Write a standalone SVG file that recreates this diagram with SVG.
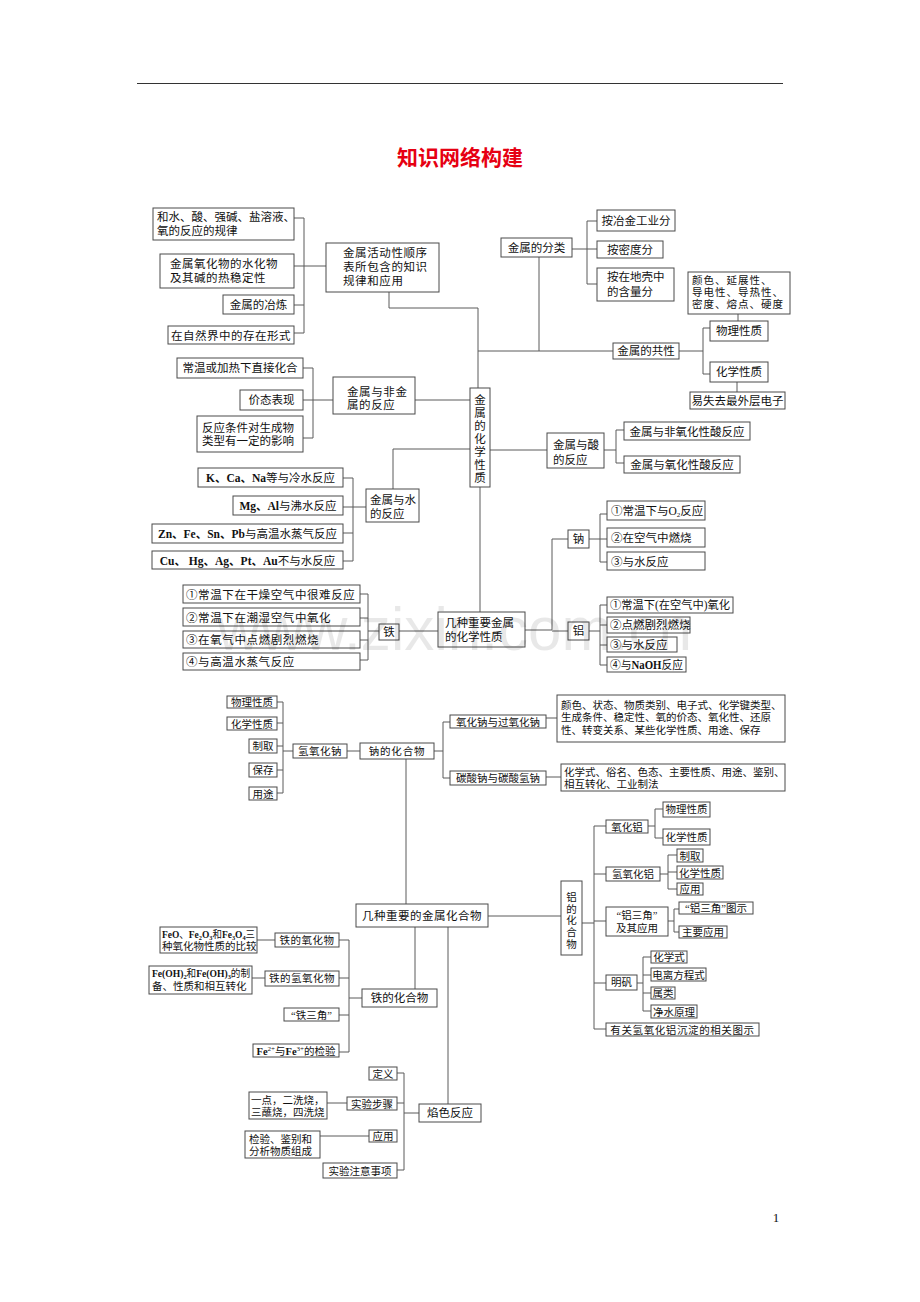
<svg xmlns="http://www.w3.org/2000/svg" width="920" height="1302" viewBox="0 0 920 1302">
<style>
.b{fill:#fff;stroke:#4a4a4a;stroke-width:1}
.l{fill:none;stroke:#5a5a5a;stroke-width:1}
text{font-family:"Liberation Serif","Noto Sans CJK SC",serif;fill:#111}
.t{font-size:11.5px}
.s{font-size:10.5px}
.m{text-anchor:middle}
.sub{font-size:7px}
</style>
<rect width="920" height="1302" fill="#fff"/>
<line x1="137" y1="83.5" x2="783" y2="83.5" stroke="#333" stroke-width="1"/>
<text x="460" y="165" text-anchor="middle" style="font-family:'Noto Sans CJK SC',sans-serif;font-size:21px;font-weight:bold;fill:#e60012">知识网络构建</text>

<g id="connectors" class="l">
<path d="M294 218H304V333H294M294 305H304M294 266H326M389 292V308H478V388M539 257V351M478 351H613M572 249H597M597 221H587V284H597M679 351H703M710 328H703V374H710M738 314V321M737 382V392M415 400H470M303 368H313V438H303M303 400H333M393 489V449H470M343 478H353V561H343M343 533H353M343 507H366M490 450H547M604 450H616M624 430H616V463H624M480 487V612M525 630H552V539H568M552 631H568M589 539H607M607 514H600V562H607M589 631H600M607 605H600V665H607M600 625H607M600 645H607M399 631H438M379 631H368M360 594H368V660H360M360 618H368M360 640H368"/>
<path d="M277 702H283V793H277M277 723H283M277 746H283M277 770H283M283 751H293M347 751H360M434 751H443M450 722H443V778H450M546 718H557M546 777H561M406 759V904M488 916H561M582 923H594M606 826H594V1029H606M594 874H606M594 921H606M594 983H606M648 826H655M663 809H655V838H663M660 874H668M677 855H668V889H677M668 872H677M668 921H674M679 909H674V932H679M637 983H643M651 957H643V1011H651M643 975H651M643 993H651M415 927V989M448 927V1104M257 940H275M252 978H265M339 940H349V1052H339M339 978H349M339 1015H349M349 998H362M327 1103H347M320 1136H369M397 1073H404V1170H397M397 1103H404M404 1113H419"/>
</g>

<g id="n-guilv"><rect class="b" x="153" y="208" width="141" height="32"/><text class="t" x="157" y="221">和水、酸、强碱、盐溶液、</text><text class="t" x="157" y="235">氧的反应的规律</text></g>
<g id="n-shuihuawu"><rect class="b" x="160" y="254" width="134" height="34"/><text class="t" x="170" y="268" letter-spacing="0.5">金属氧化物的水化物</text><text class="t" x="170" y="282" letter-spacing="0.5">及其碱的热稳定性</text></g>
<g id="n-yelian"><rect class="b" x="223" y="295" width="71" height="19"/><text class="t m" x="258.5" y="308.5">金属的冶炼</text></g>
<g id="n-cunzai"><rect class="b" x="168" y="326" width="126" height="18"/><text class="t m" x="231" y="339.5" letter-spacing="0.5">在自然界中的存在形式</text></g>
<g id="n-shunxu"><rect class="b" x="326" y="243" width="113" height="49"/><text class="t" x="343" y="257" letter-spacing="0.6">金属活动性顺序</text><text class="t" x="343" y="271" letter-spacing="0.6">表所包含的知识</text><text class="t" x="343" y="285" letter-spacing="0.6">规律和应用</text></g>

<g id="n-fenlei"><rect class="b" x="501" y="238" width="71" height="19"/><text class="t m" x="536.5" y="251.5">金属的分类</text></g>
<g id="n-yejin"><rect class="b" x="597" y="210" width="78" height="21"/><text class="t m" x="636" y="224.5">按冶金工业分</text></g>
<g id="n-midu"><rect class="b" x="597" y="241" width="66" height="17"/><text class="t m" x="630" y="253.5">按密度分</text></g>
<g id="n-diqiao"><rect class="b" x="597" y="268" width="77" height="33"/><text class="t" x="607" y="281">按在地壳中</text><text class="t" x="607" y="296">的含量分</text></g>
<g id="n-gongxing"><rect class="b" x="613" y="343" width="66" height="16"/><text class="t m" x="646" y="355">金属的共性</text></g>
<g id="n-wuli"><rect class="b" x="710" y="321" width="58" height="20"/><text class="t m" x="739" y="335">物理性质</text></g>
<g id="n-huaxue"><rect class="b" x="710" y="362" width="58" height="20"/><text class="t m" x="739" y="376">化学性质</text></g>
<g id="n-yanse"><rect class="b" x="688" y="272" width="102" height="42"/><text class="s" x="692" y="284" letter-spacing="1">颜色、延展性、</text><text class="s" x="692" y="296" letter-spacing="1">导电性、导热性、</text><text class="s" x="692" y="308" letter-spacing="1">密度、熔点、硬度</text></g>
<g id="n-shiqu"><rect class="b" x="690" y="392" width="95" height="17"/><text class="t m" x="737.5" y="404.5">易失去最外层电子</text></g>

<g id="n-huaxuexingzhi"><rect class="b" x="470" y="388" width="20" height="99"/><text class="t m"><tspan x="480" y="404">金</tspan><tspan x="480" dy="13">属</tspan><tspan x="480" dy="13">的</tspan><tspan x="480" dy="13">化</tspan><tspan x="480" dy="13">学</tspan><tspan x="480" dy="13">性</tspan><tspan x="480" dy="13">质</tspan></text></g>

<g id="n-zhijie"><rect class="b" x="177" y="358" width="126" height="20"/><text class="t m" x="240" y="372">常温或加热下直接化合</text></g>
<g id="n-jiatai"><rect class="b" x="240" y="390" width="63" height="20"/><text class="t m" x="271.5" y="404">价态表现</text></g>
<g id="n-tiaojian"><rect class="b" x="197" y="416" width="106" height="36"/><text class="t" x="202" y="432">反应条件对生成物</text><text class="t" x="202" y="445">类型有一定的影响</text></g>
<g id="n-feijin"><rect class="b" x="333" y="377" width="82" height="37"/><text class="t" x="347" y="395.5" letter-spacing="0.6">金属与非金</text><text class="t" x="347" y="408.5" letter-spacing="0.6">属的反应</text></g>

<g id="n-shui"><rect class="b" x="366" y="489" width="53" height="33"/><text class="t" x="370" y="503.5">金属与水</text><text class="t" x="370" y="518">的反应</text></g>
<g id="n-lengshui"><rect class="b" x="198" y="468" width="145" height="19"/><text class="t m" x="270.5" y="482" font-weight="bold">K、Ca、Na<tspan font-weight="normal">等与冷水反应</tspan></text></g>
<g id="n-feishui"><rect class="b" x="233" y="496" width="110" height="19"/><text class="t m" x="288" y="510" font-weight="bold">Mg、Al<tspan font-weight="normal">与沸水反应</tspan></text></g>
<g id="n-zhengqi"><rect class="b" x="152" y="524" width="191" height="19"/><text class="t m" x="247.5" y="538" font-weight="bold">Zn、Fe、Sn、Pb<tspan font-weight="normal">与高温水蒸气反应</tspan></text></g>
<g id="n-bushui"><rect class="b" x="152" y="551" width="191" height="18"/><text class="t m" x="247.5" y="564.5" font-weight="bold">Cu、 Hg、Ag、Pt、Au<tspan font-weight="normal">不与水反应</tspan></text></g>

<g id="n-suan"><rect class="b" x="547" y="433" width="57" height="35"/><text class="t" x="553" y="449">金属与酸</text><text class="t" x="553" y="464">的反应</text></g>
<g id="n-feiyanghua"><rect class="b" x="624" y="422" width="126" height="18"/><text class="t m" x="687" y="435.5">金属与非氧化性酸反应</text></g>
<g id="n-yanghua"><rect class="b" x="624" y="456" width="116" height="17"/><text class="t m" x="682" y="469">金属与氧化性酸反应</text></g>

<g id="n-jizhong"><rect class="b" x="438" y="612" width="87" height="35"/><text class="t" x="445" y="627">几种重要金属</text><text class="t" x="445" y="641">的化学性质</text></g>
<g id="n-na"><rect class="b" x="568" y="530" width="21" height="18"/><text class="t m" x="578.5" y="543">钠</text></g>
<g id="n-na1"><rect class="b" x="607" y="501" width="98" height="19"/><text class="t" x="611" y="515">①常温下与O<tspan class="sub" dy="2">2</tspan><tspan dy="-2">反应</tspan></text></g>
<g id="n-na2"><rect class="b" x="607" y="528" width="98" height="19"/><text class="t" x="611" y="542">②在空气中燃烧</text></g>
<g id="n-na3"><rect class="b" x="607" y="552" width="98" height="18"/><text class="t" x="611" y="565.5">③与水反应</text></g>
<g id="n-al"><rect class="b" x="568" y="622" width="21" height="18"/><text class="t m" x="578.5" y="635">铝</text></g>
<g id="n-al1"><rect class="b" x="607" y="597" width="126" height="16"/><text class="t" x="610" y="609" textLength="120" lengthAdjust="spacingAndGlyphs">①常温下(在空气中)氧化</text></g>
<g id="n-al2"><rect class="b" x="607" y="617" width="83" height="16"/><text class="t" x="610" y="629">②点燃剧烈燃烧</text></g>
<g id="n-al3"><rect class="b" x="607" y="637" width="70" height="15"/><text class="t" x="610" y="648.5">③与水反应</text></g>
<g id="n-al4"><rect class="b" x="607" y="657" width="79" height="15"/><text class="t" x="610" y="668.5" textLength="73" lengthAdjust="spacingAndGlyphs">④与<tspan font-weight="bold">NaOH</tspan>反应</text></g>
<g id="n-fe"><rect class="b" x="379" y="624" width="20" height="16"/><text class="t m" x="389" y="636">铁</text></g>
<g id="n-fe1"><rect class="b" x="183" y="585" width="177" height="18"/><text class="t" x="186" y="598.5" letter-spacing="0.6">①常温下在干燥空气中很难反应</text></g>
<g id="n-fe2"><rect class="b" x="183" y="608" width="177" height="18"/><text class="t" x="186" y="621.5" letter-spacing="0.6">②常温下在潮湿空气中氧化</text></g>
<g id="n-fe3"><rect class="b" x="183" y="631" width="177" height="17"/><text class="t" x="186" y="644" letter-spacing="0.6">③在氧气中点燃剧烈燃烧</text></g>
<g id="n-fe4"><rect class="b" x="183" y="653" width="177" height="17"/><text class="t" x="186" y="666" letter-spacing="0.6">④与高温水蒸气反应</text></g>

<g id="n-naoh-wuli"><rect class="b" x="227" y="696" width="50" height="12"/><text class="s m" x="252" y="706">物理性质</text></g>
<g id="n-naoh-huaxue"><rect class="b" x="227" y="717" width="50" height="13"/><text class="s m" x="252" y="727.5">化学性质</text></g>
<g id="n-naoh-zhiqu"><rect class="b" x="249" y="739" width="28" height="14"/><text class="s m" x="263" y="750">制取</text></g>
<g id="n-naoh-baocun"><rect class="b" x="249" y="763" width="28" height="14"/><text class="s m" x="263" y="774">保存</text></g>
<g id="n-naoh-yongtu"><rect class="b" x="249" y="787" width="28" height="13"/><text class="s m" x="263" y="797.5">用途</text></g>
<g id="n-naoh"><rect class="b" x="293" y="744" width="54" height="14"/><text class="s m" x="320" y="755" letter-spacing="0.5">氢氧化钠</text></g>
<g id="n-nahuahewu"><rect class="b" x="360" y="743" width="74" height="16"/><text class="s m" x="397" y="755" letter-spacing="0.8">钠的化合物</text></g>
<g id="n-na2o"><rect class="b" x="450" y="715" width="96" height="13"/><text class="s m" x="498" y="725.5">氧化钠与过氧化钠</text></g>
<g id="n-na2co3"><rect class="b" x="450" y="771" width="96" height="14"/><text class="s m" x="498" y="782">碳酸钠与碳酸氢钠</text></g>
<g id="n-na2o-d"><rect class="b" x="557" y="695" width="228" height="47"/><text class="s" x="561" y="708.5">颜色、状态、物质类别、电子式、化学键类型、</text><text class="s" x="561" y="721">生成条件、稳定性、氧的价态、氧化性、还原</text><text class="s" x="561" y="733.5">性、转变关系、某些化学性质、用途、保存</text></g>
<g id="n-na2co3-d"><rect class="b" x="561" y="764" width="224" height="27"/><text class="s" x="564" y="776">化学式、俗名、色态、主要性质、用途、鉴别、</text><text class="s" x="564" y="787.5">相互转化、工业制法</text></g>

<g id="n-jinshuhuahewu"><rect class="b" x="356" y="904" width="132" height="23"/><text class="t m" x="422" y="920" letter-spacing="0.5">几种重要的金属化合物</text></g>
<g id="n-lvhuahewu"><rect class="b" x="561" y="881" width="21" height="74"/><text class="s m"><tspan x="571.5" y="901">铝</tspan><tspan x="571.5" dy="11.7">的</tspan><tspan x="571.5" dy="11.7">化</tspan><tspan x="571.5" dy="11.7">合</tspan><tspan x="571.5" dy="11.7">物</tspan></text></g>
<g id="n-al2o3"><rect class="b" x="606" y="820" width="42" height="13"/><text class="s m" x="627" y="830.5">氧化铝</text></g>
<g id="n-al2o3-wuli"><rect class="b" x="663" y="802" width="47" height="15"/><text class="s m" x="686.5" y="813">物理性质</text></g>
<g id="n-al2o3-huaxue"><rect class="b" x="663" y="829" width="47" height="16"/><text class="s m" x="686.5" y="841">化学性质</text></g>
<g id="n-aloh3"><rect class="b" x="606" y="867" width="54" height="14"/><text class="s m" x="633" y="878">氢氧化铝</text></g>
<g id="n-aloh3-zhiqu"><rect class="b" x="677" y="849" width="26" height="13"/><text class="s m" x="690" y="859.5">制取</text></g>
<g id="n-aloh3-huaxue"><rect class="b" x="677" y="866" width="46" height="13"/><text class="s m" x="700" y="876.5">化学性质</text></g>
<g id="n-aloh3-yingyong"><rect class="b" x="677" y="883" width="26" height="12"/><text class="s m" x="690" y="893">应用</text></g>
<g id="n-lvsanjiao"><rect class="b" x="606" y="907" width="62" height="29"/><text class="s m" x="637" y="919">“铝三角”</text><text class="s m" x="637" y="931.5">及其应用</text></g>
<g id="n-lvsanjiao-tu"><rect class="b" x="679" y="902" width="74" height="12"/><text class="s m" x="716" y="912">“铝三角”图示</text></g>
<g id="n-lvsanjiao-yy"><rect class="b" x="679" y="926" width="48" height="12"/><text class="s m" x="703" y="936">主要应用</text></g>
<g id="n-mingfan"><rect class="b" x="606" y="975" width="31" height="15"/><text class="s m" x="621.5" y="986">明矾</text></g>
<g id="n-mf1"><rect class="b" x="651" y="951" width="36" height="12"/><text class="s m" x="669" y="961">化学式</text></g>
<g id="n-mf2"><rect class="b" x="651" y="968" width="55" height="13"/><text class="s m" x="678.5" y="978.5">电离方程式</text></g>
<g id="n-mf3"><rect class="b" x="651" y="987" width="24" height="12"/><text class="s m" x="663" y="997">属类</text></g>
<g id="n-mf4"><rect class="b" x="651" y="1005" width="46" height="13"/><text class="s m" x="674" y="1015.5">净水原理</text></g>
<g id="n-chendian"><rect class="b" x="606" y="1023" width="153" height="13"/><text class="s m" x="682.5" y="1033.5" letter-spacing="0.6">有关氢氧化铝沉淀的相关图示</text></g>

<g id="n-tiehuahewu"><rect class="b" x="362" y="989" width="75" height="18"/><text class="t m" x="399.5" y="1002">铁的化合物</text></g>
<g id="n-tieyanghuawu"><rect class="b" x="275" y="933" width="64" height="14"/><text class="s m" x="307" y="944" letter-spacing="0.5">铁的氧化物</text></g>
<g id="n-feo"><rect class="b" x="160" y="927" width="97" height="26"/><text class="s" x="162" y="937.5" textLength="93" lengthAdjust="spacingAndGlyphs"><tspan font-weight="bold">FeO</tspan>、<tspan font-weight="bold">Fe<tspan class="sub" dy="2">2</tspan><tspan dy="-2">O</tspan><tspan class="sub" dy="2">3</tspan></tspan><tspan dy="-2">和</tspan><tspan font-weight="bold">Fe<tspan class="sub" dy="2">3</tspan><tspan dy="-2">O</tspan><tspan class="sub" dy="2">4</tspan></tspan><tspan dy="-2">三</tspan></text><text class="s" x="162" y="949.5">种氧化物性质的比较</text></g>
<g id="n-tieqingyanghuawu"><rect class="b" x="265" y="971" width="74" height="15"/><text class="s m" x="302" y="982" letter-spacing="0.5">铁的氢氧化物</text></g>
<g id="n-feoh"><rect class="b" x="149" y="966" width="103" height="28"/><text class="s" x="152" y="977" textLength="98" lengthAdjust="spacingAndGlyphs"><tspan font-weight="bold">Fe(OH)<tspan class="sub" dy="2">2</tspan></tspan><tspan dy="-2">和</tspan><tspan font-weight="bold">Fe(OH)<tspan class="sub" dy="2">3</tspan></tspan><tspan dy="-2">的制</tspan></text><text class="s" x="152" y="989.5">备、性质和相互转化</text></g>
<g id="n-tiesanjiao"><rect class="b" x="284" y="1008" width="55" height="13"/><text class="s m" x="311.5" y="1018.5">“铁三角”</text></g>
<g id="n-jianyan"><rect class="b" x="253" y="1044" width="86" height="13"/><text class="s m" x="296" y="1054.5"><tspan font-weight="bold">Fe</tspan><tspan class="sub" dy="-4">2+</tspan><tspan dy="4">与</tspan><tspan font-weight="bold">Fe</tspan><tspan class="sub" dy="-4">3+</tspan><tspan dy="4">的检验</tspan></text></g>

<g id="n-yanse-fy"><rect class="b" x="419" y="1104" width="62" height="18"/><text class="t m" x="450" y="1117">焰色反应</text></g>
<g id="n-dingyi"><rect class="b" x="369" y="1067" width="28" height="13"/><text class="s m" x="383" y="1077.5">定义</text></g>
<g id="n-buzhou"><rect class="b" x="347" y="1097" width="50" height="13"/><text class="s m" x="372" y="1107.5">实验步骤</text></g>
<g id="n-yidian"><rect class="b" x="249" y="1092" width="78" height="27"/><text class="s" x="251" y="1104">一点，二洗烧，</text><text class="s" x="251" y="1116">三蘸烧，四洗烧</text></g>
<g id="n-yingyong"><rect class="b" x="369" y="1130" width="28" height="12"/><text class="s m" x="383" y="1140">应用</text></g>
<g id="n-jianbie"><rect class="b" x="245" y="1131" width="75" height="27"/><text class="s" x="249" y="1142.5">检验、鉴别和</text><text class="s" x="249" y="1155">分析物质组成</text></g>
<g id="n-zhuyi"><rect class="b" x="323" y="1163" width="74" height="15"/><text class="s m" x="360" y="1174.5">实验注意事项</text></g>

<text x="776" y="1222" style="font-size:13px" text-anchor="middle">1</text>
<text x="217" y="650" textLength="475" lengthAdjust="spacingAndGlyphs" style="font-family:'Liberation Sans',sans-serif;font-size:62px;fill:#000;fill-opacity:0.09">www.zixin.com.cn</text>
</svg>
